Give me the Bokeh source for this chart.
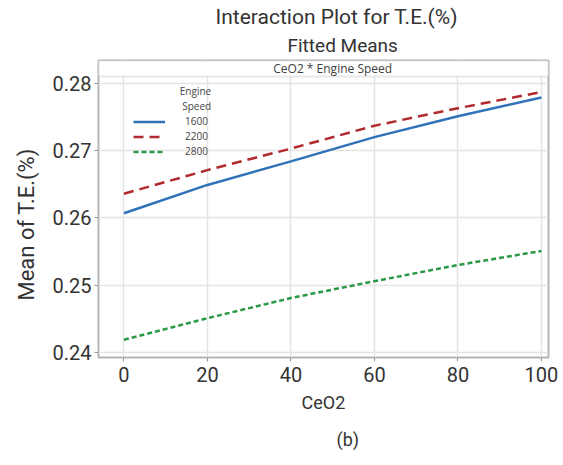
from bokeh.plotting import figure
from bokeh.models import (Range1d, FixedTicker, Legend, LegendItem, BoxAnnotation,
                          Label, Title, NumeralTickFormatter)
from bokeh.embed import file_html
from bokeh.resources import INLINE

# ---- data ----
ceo2 = [0, 20, 40, 60, 80, 100]
speed_1600 = [0.2607, 0.2649, 0.2684, 0.2720, 0.2751, 0.2779]
speed_2200 = [0.2636, 0.2671, 0.2703, 0.2737, 0.2763, 0.2787]
speed_2800 = [0.2419, 0.2451, 0.2481, 0.2506, 0.2530, 0.2551]
series_names = ["1600", "2200", "2800"]
x_ticks = [0, 20, 40, 60, 80, 100]
y_ticks = [0.24, 0.25, 0.26, 0.27, 0.28]

FONT = "Roboto"
SMALL_FONT = "Open Sans"
TXT = "#333333"

p = figure(width=563, height=465, output_backend="svg", toolbar_location=None,
           x_range=Range1d(-6.1, 101.7), y_range=Range1d(0.23926, 0.28339),
           min_border_left=97, min_border_right=15, min_border_top=60,
           min_border_bottom=108)

# outer (top) title line
p.title.text = "Interaction Plot for T.E.(%)"
p.title.align = "left"
p.title.offset = 117
p.title.text_font = FONT
p.title.text_font_size = "21px"
p.title.text_font_style = "normal"
p.title.text_color = TXT
p.title.standoff = 0

# inner title line, closest to the frame
sub_title = Title(text="Fitted Means", align="left", offset=189,
                  text_font=FONT, text_font_size="19px", text_font_style="normal",
                  text_color=TXT, standoff=7)
p.add_layout(sub_title, "above")

p.outline_line_color = "#b4b4b4"
p.outline_line_width = 2

p.xgrid.grid_line_color = "#e4e4e4"
p.ygrid.grid_line_color = "#e4e4e4"
p.xgrid.grid_line_width = 1.5
p.ygrid.grid_line_width = 1.5

p.xaxis.ticker = FixedTicker(ticks=x_ticks)
p.yaxis.ticker = FixedTicker(ticks=y_ticks)
p.yaxis.formatter = NumeralTickFormatter(format="0.00")
for ax in (p.xaxis[0], p.yaxis[0]):
    ax.axis_line_color = None
    ax.major_tick_line_color = "#999999"
    ax.major_tick_in = 0
    ax.major_tick_out = 4
    ax.minor_tick_line_color = None
    ax.major_label_text_font = FONT
    ax.major_label_text_font_size = "20px"
    ax.major_label_text_color = TXT
    ax.axis_label_text_font = FONT
    ax.axis_label_text_font_size = "18px"
    ax.axis_label_text_font_style = "normal"
    ax.axis_label_text_color = TXT
p.xaxis.axis_label = "CeO2"
p.xaxis.major_label_standoff = 5
p.xaxis.axis_label_standoff = 7
p.yaxis.major_label_standoff = 3

# y axis title, placed a little below the frame centre as in the original
y_title = Title(text="Mean of T.E.(%)", align="left", offset=57, text_font=FONT,
                text_font_size="22px", text_font_style="normal", text_color=TXT,
                standoff=22)
p.add_layout(y_title, "left")

sub = Title(text="(b)", align="left", offset=238, text_font=FONT, text_font_size="18px",
            text_font_style="normal", text_color=TXT, standoff=26, vertical_align="top")
p.add_layout(sub, "below")

# header strip of the panel
header = BoxAnnotation(bottom=0.2810, fill_color="white", fill_alpha=1.0,
                       line_color="#b4b4b4", line_width=2, level="annotation")
p.add_layout(header)
p.add_layout(Label(x=50, y=0.2822, text="CeO2 * Engine Speed", text_align="center",
                   text_baseline="middle", text_font=SMALL_FONT, text_font_size="12px",
                   text_color="#404040"))

r1 = p.line(ceo2, speed_1600, line_color="#2f72b8", line_width=2.5)
r2 = p.line(ceo2, speed_2200, line_color="#b02a2e", line_width=2.5, line_dash="10 6")
r3 = p.line(ceo2, speed_2800, line_color="#2a9a48", line_width=2.5, line_dash="5 3")

# legend title, right-aligned over the labels
p.add_layout(Label(x=20.9, y=0.27885, text="Engine", text_align="right",
                   text_baseline="middle", text_font=SMALL_FONT, text_font_size="10px",
                   text_color="#444444"))
p.add_layout(Label(x=20.9, y=0.27668, text="Speed", text_align="right",
                   text_baseline="middle", text_font=SMALL_FONT, text_font_size="10px",
                   text_color="#444444"))

legend = Legend(items=[LegendItem(label=series_names[0], renderers=[r1]),
                       LegendItem(label=series_names[1], renderers=[r2]),
                       LegendItem(label=series_names[2], renderers=[r3])],
                location=(35, 199))
legend.background_fill_alpha = 0
legend.border_line_color = None
legend.label_text_font = SMALL_FONT
legend.label_text_font_size = "10px"
legend.label_text_color = "#444444"
legend.glyph_width = 32
legend.glyph_height = 13
legend.label_height = 13
legend.spacing = 1
legend.margin = 0
legend.padding = 0
legend.label_standoff = 20
p.add_layout(legend)

open("out.html", "w").write(file_html(p, INLINE))
